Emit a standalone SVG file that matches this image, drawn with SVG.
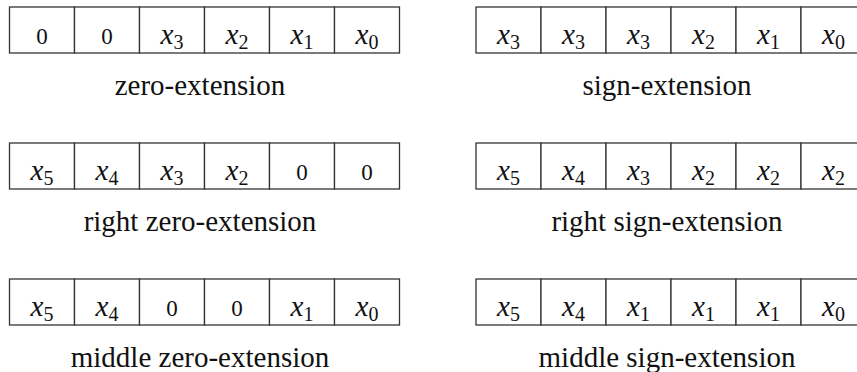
<svg xmlns="http://www.w3.org/2000/svg" width="857" height="372" viewBox="0 0 857 372">
<style>
.cell{fill:#fff;stroke:#333;stroke-width:1.3}
text{font-family:"Liberation Serif","DejaVu Serif",serif;fill:#111}
.v{font-size:29px;text-anchor:middle}
.z{font-size:23px;text-anchor:middle;font-variant-numeric:oldstyle-nums}
.lbl{font-size:29px;text-anchor:middle}
.i{font-style:italic}
.s{font-size:20px}
</style>
<defs>
<g id="row6">
<rect class="cell" x="0" y="0" width="65" height="46"/>
<rect class="cell" x="65" y="0" width="65" height="46"/>
<rect class="cell" x="130" y="0" width="65" height="46"/>
<rect class="cell" x="195" y="0" width="65" height="46"/>
<rect class="cell" x="260" y="0" width="65" height="46"/>
<rect class="cell" x="325" y="0" width="65" height="46"/>
</g>
</defs>

<g id="zero-extension" transform="translate(9.5,7)">
<use href="#row6"/>
<text class="z" x="32.5" y="37">0</text>
<text class="z" x="97.5" y="37">0</text>
<text class="v" x="162.5" y="37"><tspan class="i">x</tspan><tspan class="s" dy="5">3</tspan></text>
<text class="v" x="227.5" y="37"><tspan class="i">x</tspan><tspan class="s" dy="5">2</tspan></text>
<text class="v" x="292.5" y="37"><tspan class="i">x</tspan><tspan class="s" dy="5">1</tspan></text>
<text class="v" x="357.5" y="37"><tspan class="i">x</tspan><tspan class="s" dy="5">0</tspan></text>
<text class="lbl" x="190.5" y="88">zero-extension</text>
</g>

<g id="sign-extension" transform="translate(476,7)">
<use href="#row6"/>
<text class="v" x="32.5" y="37"><tspan class="i">x</tspan><tspan class="s" dy="5">3</tspan></text>
<text class="v" x="97.5" y="37"><tspan class="i">x</tspan><tspan class="s" dy="5">3</tspan></text>
<text class="v" x="162.5" y="37"><tspan class="i">x</tspan><tspan class="s" dy="5">3</tspan></text>
<text class="v" x="227.5" y="37"><tspan class="i">x</tspan><tspan class="s" dy="5">2</tspan></text>
<text class="v" x="292.5" y="37"><tspan class="i">x</tspan><tspan class="s" dy="5">1</tspan></text>
<text class="v" x="357.5" y="37"><tspan class="i">x</tspan><tspan class="s" dy="5">0</tspan></text>
<text class="lbl" x="191" y="88">sign-extension</text>
</g>

<g id="right-zero-extension" transform="translate(9.5,143)">
<use href="#row6"/>
<text class="v" x="32.5" y="37"><tspan class="i">x</tspan><tspan class="s" dy="5">5</tspan></text>
<text class="v" x="97.5" y="37"><tspan class="i">x</tspan><tspan class="s" dy="5">4</tspan></text>
<text class="v" x="162.5" y="37"><tspan class="i">x</tspan><tspan class="s" dy="5">3</tspan></text>
<text class="v" x="227.5" y="37"><tspan class="i">x</tspan><tspan class="s" dy="5">2</tspan></text>
<text class="z" x="292.5" y="37">0</text>
<text class="z" x="357.5" y="37">0</text>
<text class="lbl" x="190.5" y="88">right zero-extension</text>
</g>

<g id="right-sign-extension" transform="translate(476,143)">
<use href="#row6"/>
<text class="v" x="32.5" y="37"><tspan class="i">x</tspan><tspan class="s" dy="5">5</tspan></text>
<text class="v" x="97.5" y="37"><tspan class="i">x</tspan><tspan class="s" dy="5">4</tspan></text>
<text class="v" x="162.5" y="37"><tspan class="i">x</tspan><tspan class="s" dy="5">3</tspan></text>
<text class="v" x="227.5" y="37"><tspan class="i">x</tspan><tspan class="s" dy="5">2</tspan></text>
<text class="v" x="292.5" y="37"><tspan class="i">x</tspan><tspan class="s" dy="5">2</tspan></text>
<text class="v" x="357.5" y="37"><tspan class="i">x</tspan><tspan class="s" dy="5">2</tspan></text>
<text class="lbl" x="191" y="88">right sign-extension</text>
</g>

<g id="middle-zero-extension" transform="translate(9.5,279)">
<use href="#row6"/>
<text class="v" x="32.5" y="37"><tspan class="i">x</tspan><tspan class="s" dy="5">5</tspan></text>
<text class="v" x="97.5" y="37"><tspan class="i">x</tspan><tspan class="s" dy="5">4</tspan></text>
<text class="z" x="162.5" y="37">0</text>
<text class="z" x="227.5" y="37">0</text>
<text class="v" x="292.5" y="37"><tspan class="i">x</tspan><tspan class="s" dy="5">1</tspan></text>
<text class="v" x="357.5" y="37"><tspan class="i">x</tspan><tspan class="s" dy="5">0</tspan></text>
<text class="lbl" x="190.5" y="88">middle zero-extension</text>
</g>

<g id="middle-sign-extension" transform="translate(476,279)">
<use href="#row6"/>
<text class="v" x="32.5" y="37"><tspan class="i">x</tspan><tspan class="s" dy="5">5</tspan></text>
<text class="v" x="97.5" y="37"><tspan class="i">x</tspan><tspan class="s" dy="5">4</tspan></text>
<text class="v" x="162.5" y="37"><tspan class="i">x</tspan><tspan class="s" dy="5">1</tspan></text>
<text class="v" x="227.5" y="37"><tspan class="i">x</tspan><tspan class="s" dy="5">1</tspan></text>
<text class="v" x="292.5" y="37"><tspan class="i">x</tspan><tspan class="s" dy="5">1</tspan></text>
<text class="v" x="357.5" y="37"><tspan class="i">x</tspan><tspan class="s" dy="5">0</tspan></text>
<text class="lbl" x="191" y="88">middle sign-extension</text>
</g>

<g id="connectors"></g>
</svg>
